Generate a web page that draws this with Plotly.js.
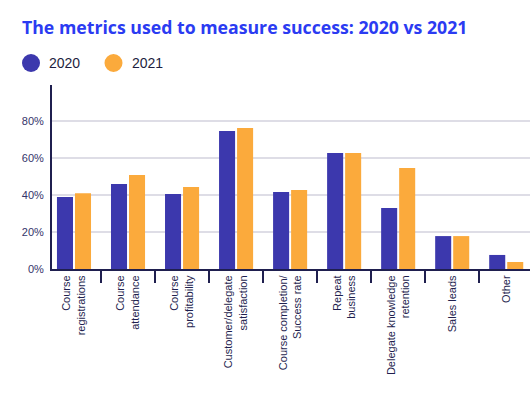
<!DOCTYPE html>
<html>
<head>
<meta charset="utf-8">
<script src="https://cdn.plot.ly/plotly-3.0.1.min.js"></script>
<style>html,body{margin:0;padding:0;background:#fff;}#chart{width:530px;height:396px;}</style>
</head>
<body>
<div id="chart"></div>
<script>
const categories = [
  "Course<br>registrations",
  "Course<br>attendance",
  "Course<br>profitability",
  "Customer/delegate<br>satisfaction",
  "Course completion/<br>Success rate",
  "Repeat<br>business",
  "Delegate knowledge<br>retention",
  "Sales leads",
  "Other"
];
const values2020 = [38.9, 46, 40.5, 74.6, 41.6, 62.7, 33, 17.8, 7.6];
const values2021 = [41, 50.8, 44.3, 76.2, 42.7, 62.7, 54.6, 17.8, 3.8];
const seriesNames = ["2020", "2021"];
const yTickVals = [0, 20, 40, 60, 80];
const yTickText = ["0%", "20%", "40%", "60%", "80%"];

const colors = ["#3c38ad", "#fbaa3c"];
const navy = "#1f1f4f";

const traces = [
  {type: "bar", name: seriesNames[0], x: categories, y: values2020, marker: {color: colors[0]}, showlegend: false, hoverinfo: "y"},
  {type: "bar", name: seriesNames[1], x: categories, y: values2021, marker: {color: colors[1]}, showlegend: false, hoverinfo: "y"}
];

const legendFont = {family: "Liberation Sans, Arial, sans-serif", size: 14, color: "#1e1e40"};
const layout = {
  width: 530, height: 396,
  margin: {l: 52, r: 0, t: 85, b: 127},
  paper_bgcolor: "#fff", plot_bgcolor: "#fff",
  barmode: "group", bargap: 0.333, bargroupgap: 0.11,
  title: {
    text: "<b>The metrics used to measure success: 2020 vs 2021</b>",
    font: {family: "Open Sans, sans-serif", size: 17.7, color: "#2b3bf2"},
    x: 22/530, xanchor: "left", xref: "container",
    y: 1 - 28/396, yanchor: "middle", yref: "container"
  },
  xaxis: {
    type: "category",
    range: [-0.407, 8.44],
    tickangle: -90,
    tickson: "boundaries",
    ticks: "outside", ticklen: 12, tickwidth: 1.5, tickcolor: navy,
    showline: true, linecolor: navy, linewidth: 2,
    showgrid: false,
    tickfont: {family: "Liberation Sans, Arial, sans-serif", size: 11, color: navy},
    fixedrange: true
  },
  yaxis: {
    range: [0, 99.5],
    tickvals: yTickVals, ticktext: yTickText,
    showline: true, linecolor: navy, linewidth: 2,
    showgrid: true, gridcolor: "#dedde6", gridwidth: 1.5,
    zeroline: false,
    ticks: "", ticklabelstandoff: 4,
    tickfont: {family: "Liberation Sans, Arial, sans-serif", size: 11, color: "#34346a"},
    fixedrange: true
  },
  shapes: [
    {type: "circle", xref: "paper", yref: "paper", xsizemode: "pixel", ysizemode: "pixel",
     xanchor: -21/478, yanchor: 1 + 22/184, x0: -9, x1: 9, y0: -9, y1: 9,
     fillcolor: colors[0], line: {width: 0}},
    {type: "circle", xref: "paper", yref: "paper", xsizemode: "pixel", ysizemode: "pixel",
     xanchor: 61.5/478, yanchor: 1 + 22/184, x0: -9, x1: 9, y0: -9, y1: 9,
     fillcolor: colors[1], line: {width: 0}}
  ],
  annotations: [
    {text: seriesNames[0], xref: "paper", yref: "paper", x: -5/478, y: 1 + 22/184, xanchor: "left", yanchor: "middle", showarrow: false, font: legendFont},
    {text: seriesNames[1], xref: "paper", yref: "paper", x: 78/478, y: 1 + 22/184, xanchor: "left", yanchor: "middle", showarrow: false, font: legendFont}
  ]
};

Plotly.newPlot("chart", traces, layout, {displayModeBar: false, staticPlot: true});
</script>
</body>
</html>
